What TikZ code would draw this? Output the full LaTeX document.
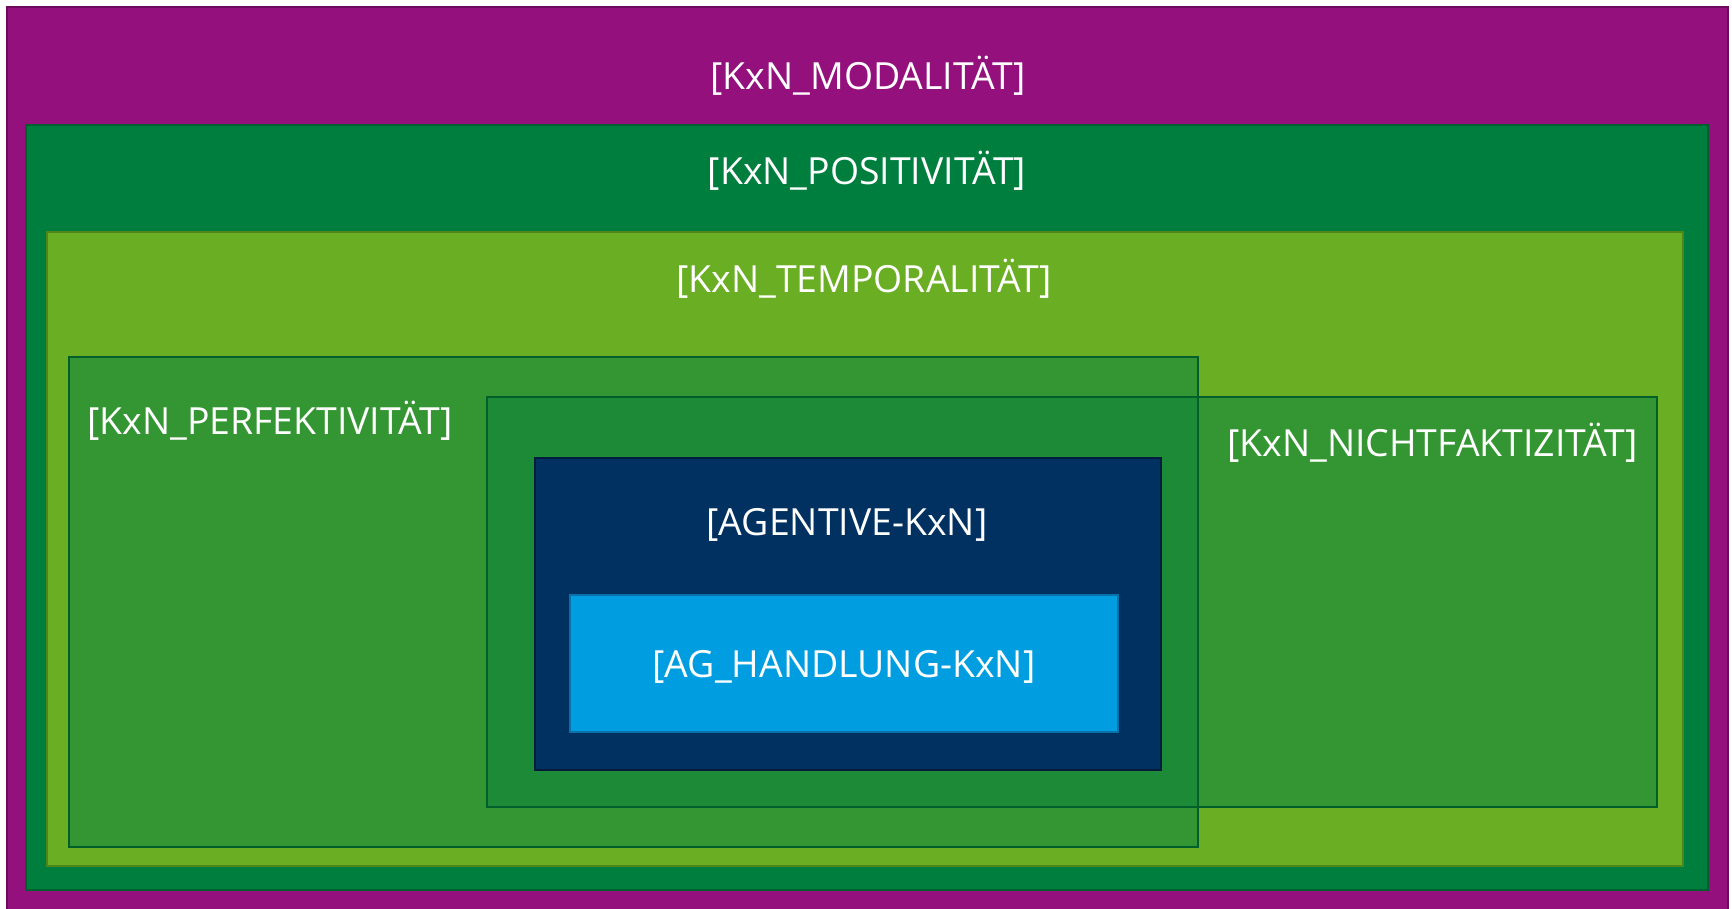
\documentclass[tikz,border=0pt]{standalone}
\usepackage{fontspec}
\setmainfont{Open Sans}
\begin{document}
\begin{tikzpicture}[x=1pt,y=-1pt,
  box/.style={line width=2.5pt},
  lbl/.style={text=white,font=\fontsize{37.4}{44}\selectfont,inner sep=0pt,anchor=base}]
\definecolor{cpurple}{HTML}{93107D}\definecolor{bpurple}{HTML}{6E0A5E}
\definecolor{cdgreen}{HTML}{007E3E}\definecolor{bdgreen}{HTML}{005F2E}
\definecolor{clgreen}{HTML}{6AAF23}\definecolor{blgreen}{HTML}{4F861C}
\definecolor{cmgreen}{HTML}{349632}\definecolor{bmgreen}{HTML}{005F2A}
\definecolor{covl}{HTML}{1C8A37}
\definecolor{cnavy}{HTML}{003160}\definecolor{bnavy}{HTML}{001E3C}
\definecolor{cblue}{HTML}{009EE0}\definecolor{bblue}{HTML}{0A72A8}
\useasboundingbox[fill=white] (0,0) rectangle (1732,908);
\clip (0,0) rectangle (1732,908);
\path[box,fill=cpurple,draw=bpurple] (7,7) rectangle (1728,930);
\path[box,fill=cdgreen,draw=bdgreen] (26,125) rectangle (1708,890);
\path[box,fill=clgreen,draw=blgreen] (47,232) rectangle (1683,866);
\fill[cmgreen] (69,357) rectangle (1198,847);
\fill[cmgreen] (487,397) rectangle (1657,807);
\fill[covl] (487,397) rectangle (1198,807);
\draw[box,draw=bmgreen] (69,357) rectangle (1198,847);
\draw[box,draw=bmgreen] (487,397) rectangle (1657,807);
\path[box,fill=cnavy,draw=bnavy] (535,458) rectangle (1161,770);
\path[box,fill=cblue,draw=bblue] (570,595) rectangle (1118,732);
\node[lbl] (modal) at (868,89) {[KxN\_MODALITÄT]};
\node[lbl] (posit) at (867,184) {[KxN\_POSITIVITÄT]};
\node[lbl] (tempo) at (864,292) {[KxN\_TEMPORALITÄT]};
\node[lbl,anchor=base west] (perf) at (87,434) {[KxN\_PERFEKTIVITÄT]};
\node[lbl,anchor=base west] (nicht) at (1227,456) {[KxN\_NICHTFAKTIZITÄT]};
\node[lbl] (agent) at (847,535) {[AGENTIVE-KxN]};
\node[lbl] (handl) at (844,677) {[AG\_HANDLUNG-KxN]};
\end{tikzpicture}
\end{document}
